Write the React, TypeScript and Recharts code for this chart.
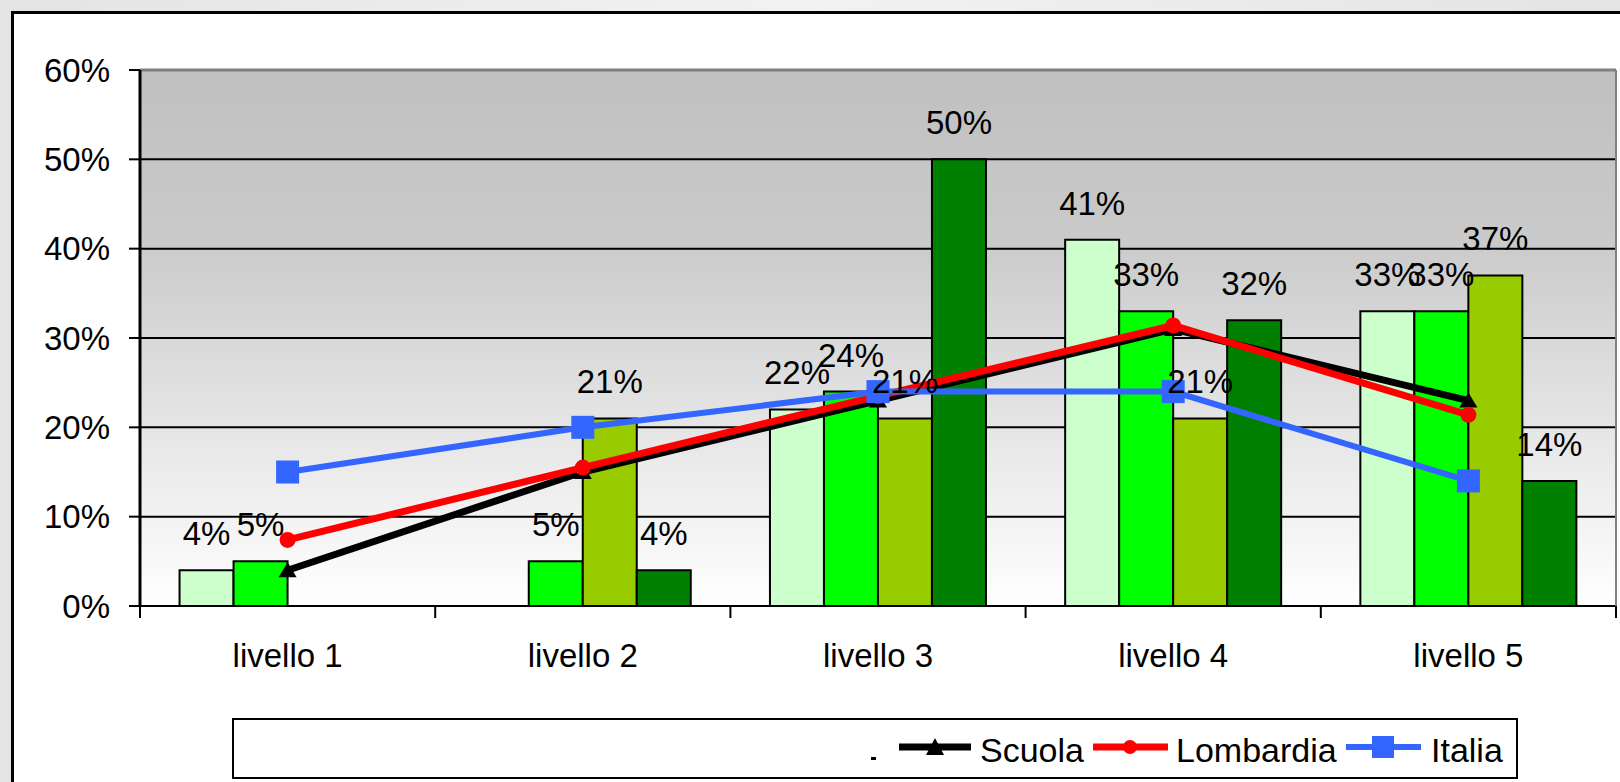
import React from 'react';
import {
  ComposedChart,
  Bar,
  Line,
  XAxis,
  YAxis,
  CartesianGrid,
  ReferenceLine,
  LabelList,
} from 'recharts';

const categories = ['livello 1', 'livello 2', 'livello 3', 'livello 4', 'livello 5'];
const serieA = [4, null, 22, 41, 33];
const serieB = [5, 5, 24, 33, 33];
const serieC = [null, 21, 21, 21, 37];
const serieD = [null, 4, 50, 32, 14];
const scuola = [4, 15, 23, 31, 23];
const lombardia = [7.4, 15.5, 23.5, 31.4, 21.4];
const italia = [15, 20, 24, 24, 14];
const yTicks = [0, 10, 20, 30, 40, 50, 60];
const innerGrid = [10, 20, 30, 40, 50];

const barColors = ['#CCFFCC', '#00FF00', '#99CC00', '#008000'];
const barKeys = ['a', 'b', 'c', 'd'];
const font = '"Liberation Sans", Arial, sans-serif';

const W = 1620;
const H = 782;
const PLOT_LEFT = 140;
const PLOT_RIGHT = 1616;
const BAND = (PLOT_RIGHT - PLOT_LEFT) / categories.length;

const data = categories.map((name, i) => ({
  name,
  a: serieA[i],
  b: serieB[i],
  c: serieC[i],
  d: serieD[i],
  scuola: scuola[i],
  lombardia: lombardia[i],
  italia: italia[i],
}));

const pct = (v: any) => (v == null ? '' : `${v}%`);

function XTick(props: any) {
  const { x, y, payload, index } = props;
  const left = x - BAND / 2;
  return (
    <g>
      <line x1={left} y1={y} x2={left} y2={y + 12} stroke="#000" strokeWidth={2} />
      {index === categories.length - 1 && (
        <line x1={x + BAND / 2} y1={y} x2={x + BAND / 2} y2={y + 12} stroke="#000" strokeWidth={2} />
      )}
      <text x={x} y={y + 61} textAnchor="middle" fontSize={33} fontFamily={font} fill="#000">
        {payload.value}
      </text>
    </g>
  );
}

function Triangle(props: any) {
  const { cx, cy } = props;
  if (cx == null || cy == null) return null;
  return <path d={`M${cx},${cy - 8} L${cx + 9},${cy + 7} L${cx - 9},${cy + 7} Z`} fill="#000" />;
}

function Circle(props: any) {
  const { cx, cy } = props;
  if (cx == null || cy == null) return null;
  return <circle cx={cx} cy={cy} r={8} fill="#FF0000" />;
}

function Square(props: any) {
  const { cx, cy } = props;
  if (cx == null || cy == null) return null;
  return <rect x={cx - 11.5} y={cy - 11.5} width={23} height={23} fill="#3366FF" />;
}

function LegendBox() {
  return (
    <svg
      width={W}
      height={H}
      style={{ position: 'absolute', left: 0, top: 0, pointerEvents: 'none' }}
    >
      <rect x={233} y={719} width={1284} height={59} fill="#fff" stroke="#000" strokeWidth={2} />
      <rect x={871} y={757} width={5} height={3} fill="#000" />
      <line x1={899} y1={747} x2={971} y2={747} stroke="#000" strokeWidth={7} />
      <path d="M935,738 L944,755 L926,755 Z" fill="#000" />
      <text x={980} y={762} fontSize={34} fontFamily={font} fill="#000">Scuola</text>
      <line x1={1093} y1={747} x2={1168} y2={747} stroke="#FF0000" strokeWidth={7} />
      <circle cx={1130} cy={747} r={7} fill="#FF0000" />
      <text x={1176} y={762} fontSize={34} fontFamily={font} fill="#000">Lombardia</text>
      <line x1={1346} y1={747} x2={1421} y2={747} stroke="#3366FF" strokeWidth={6} />
      <rect x={1372} y={736} width={22} height={22} fill="#3366FF" />
      <text x={1431} y={762} fontSize={34} fontFamily={font} fill="#000">Italia</text>
    </svg>
  );
}

export default function App() {
  return (
    <div
      style={{
        position: 'fixed',
        left: 0,
        top: 0,
        width: W,
        height: H,
        overflow: 'hidden',
        background: 'linear-gradient(90deg, #e4e4e4, #f2f2f2 50%, #e4e4e4)',
      }}
    >
      <div
        style={{
          position: 'absolute',
          left: 11,
          top: 11,
          width: W,
          height: H,
          background: '#fff',
          borderLeft: '3px solid #000',
          borderTop: '3px solid #000',
        }}
      />
      <div style={{ position: 'absolute', left: 0, top: 0 }}>
        <ComposedChart
          width={W}
          height={H}
          data={data}
          margin={{ top: 70, right: 0, left: 12, bottom: 116 }}
          barCategoryGap="13.4%"
          barGap={0}
          style={{ fontFamily: font }}
        >
          <defs>
            <linearGradient id="plotBg" x1="0" y1="0" x2="0" y2="1">
              <stop offset="0" stopColor="#c0c0c0" />
              <stop offset="0.3" stopColor="#c9c9c9" />
              <stop offset="1" stopColor="#ffffff" />
            </linearGradient>
          </defs>
          <CartesianGrid
            vertical={false}
            stroke="#000"
            strokeWidth={2}
            fill="url(#plotBg)"
            fillOpacity={1}
            horizontalValues={innerGrid}
          />
          <XAxis
            dataKey="name"
            type="category"
            height={60}
            axisLine={{ stroke: '#000', strokeWidth: 2 }}
            tickLine={false}
            tickSize={0}
            tickMargin={0}
            tick={<XTick />}
            interval={0}
          />
          <XAxis xAxisId="lab" dataKey="name" type="category" hide />
          <YAxis
            domain={[0, 60]}
            ticks={yTicks}
            width={128}
            axisLine={{ stroke: '#000', strokeWidth: 3 }}
            tickLine={{ stroke: '#000', strokeWidth: 2 }}
            tickSize={11}
            tickMargin={19}
            tick={{ fill: '#000', fontSize: 33, fontFamily: font }}
            tickFormatter={(v) => `${v}%`}
            allowDataOverflow
          />
          <YAxis
            yAxisId="r"
            orientation="right"
            domain={[0, 60]}
            width={4}
            tick={false}
            tickLine={false}
            axisLine={{ stroke: '#808080', strokeWidth: 2 }}
          />
          <ReferenceLine y={60} stroke="#808080" strokeWidth={3} />
          {barKeys.map((k, i) => (
            <Bar
              key={k}
              dataKey={k}
              fill={barColors[i]}
              stroke="#000"
              strokeWidth={2}
              isAnimationActive={false}
            />
          ))}
          <Line
            dataKey="scuola"
            stroke="#000"
            strokeWidth={7}
            dot={<Triangle />}
            activeDot={false}
            isAnimationActive={false}
          />
          <Line
            dataKey="lombardia"
            stroke="#FF0000"
            strokeWidth={7}
            dot={<Circle />}
            activeDot={false}
            isAnimationActive={false}
          />
          <Line
            dataKey="italia"
            stroke="#3366FF"
            strokeWidth={6}
            dot={<Square />}
            activeDot={false}
            isAnimationActive={false}
          />
          {barKeys.map((k) => (
            <Bar
              key={'lab-' + k}
              xAxisId="lab"
              dataKey={k}
              fill="none"
              stroke="none"
              isAnimationActive={false}
            >
              <LabelList
                dataKey={k}
                position="top"
                offset={25}
                formatter={pct}
                fill="#000"
                fontSize={33}
                fontFamily={font}
              />
            </Bar>
          ))}
        </ComposedChart>
      </div>
      <LegendBox />
    </div>
  );
}
